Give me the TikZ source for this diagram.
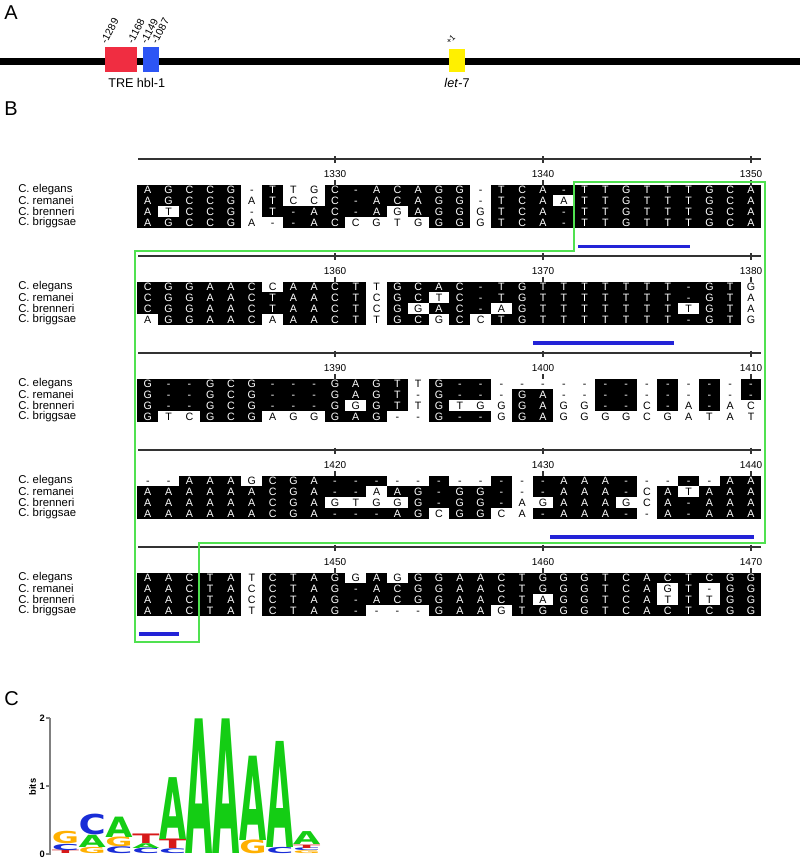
\documentclass[tikz,border=0pt]{standalone}
\usepackage{fontspec}
\setmainfont{Liberation Sans}
\newfontfamily\logofont{DejaVu Sans}
\usepackage{graphicx}
\usetikzlibrary{positioning}
\definecolor{TreRed}{RGB}{240,45,65}
\definecolor{HblBlue}{RGB}{45,85,245}
\definecolor{LetYellow}{RGB}{255,240,0}
\definecolor{BoxGreen}{RGB}{80,225,80}
\definecolor{MotifBlue}{RGB}{35,35,215}
\definecolor{LogoA}{RGB}{20,205,20}
\definecolor{LogoC}{RGB}{25,45,215}
\definecolor{LogoG}{RGB}{255,176,0}
\definecolor{LogoT}{RGB}{215,25,25}
\tikzset{
  panel/.style={font=\fontsize{15}{15}\selectfont,inner sep=0,anchor=base west},
  gene/.style={inner sep=0,minimum height=18.75pt},
  genelabel/.style={inner sep=0,font=\fontsize{9.5}{9.5}\selectfont,
    text height=6.8pt,text depth=2pt},
  posnum/.style={inner sep=0,font=\fontsize{7.8}{7.8}\selectfont,rotate=62,
    anchor=south west},
  species/.style={inner sep=0,anchor=west,font=\fontsize{8.5}{8.5}\selectfont},
  res/.style={inner sep=0,minimum width=15.7pt,minimum height=8.2pt,
    text height=5.6pt,text depth=0pt,font=\fontsize{8}{8}\selectfont},
  onres/.style={res,fill=black,text=white},
  offres/.style={res,text=black},
  ruler/.style={line width=0.8pt,black!80},
  ticklabel/.style={inner sep=0,font=\fontsize{7.5}{7.5}\selectfont},
  greenbox/.style={draw=BoxGreen,line width=1.9pt},
  motif/.style={draw=MotifBlue,line width=2.6pt},
  logo/.style={inner sep=0,anchor=south west,font=\logofont\bfseries},
  axislabel/.style={inner sep=0,font=\bfseries\fontsize{7}{7}\selectfont}
}
% one alignment row: block, row, residues
% upper case = shaded, lower case = unshaded, - = shaded gap, * = unshaded gap
\makeatletter
\newcount\alncol
\newcommand\alnrow[3]{%
  \global\alncol=0
  \@tfor\alnres:=#3\do{%
    \global\advance\alncol by 1
    \alncell{#1}{#2}}}
\makeatother
\newcommand\alncell[2]{%
  \pgfmathsetmacro\alnx{137.4+20.8*(\the\alncol-0.5)}%
  \pgfmathsetmacro\alny{190+97*(#1-1)+10.8*(#2-1)}%
  \if-\alnres
    \node[onres] (b#1r#2c\the\alncol) at (\alnx,\alny) {-};%
  \else\if*\alnres
    \node[offres] (b#1r#2c\the\alncol) at (\alnx,\alny) {-};%
  \else\ifnum\expandafter`\alnres>96
    \node[offres] (b#1r#2c\the\alncol) at (\alnx,\alny) {\uppercase\expandafter{\alnres}};%
  \else
    \node[onres] (b#1r#2c\the\alncol) at (\alnx,\alny) {\alnres};%
  \fi\fi\fi}
% one letter of the logo: column, base (bits), height (bits), colour, letter
\newdimen\logoht
\newcommand\logoletter[5]{%
  \logoht=#3\dimexpr51pt\relax
  \node[logo] at ({51.6+26.8*(#1-1)},{854-68*#2}) {\resizebox{20.4pt}{\logoht}{\color{#4}#5}};}

\begin{document}
\begin{tikzpicture}[x=0.75pt,y=-0.75pt]
\path[use as bounding box,fill=white] (0,0) rectangle (800,862);

% A: promoter map
\node[panel] (pa) at (4,20) {A};
\coordinate (chl) at (0,61.5);
\coordinate (chr) at (800,61.5);
\draw[line width=5.2pt] (chl) -- (chr);
\node[gene,fill=TreRed,minimum width=24pt] (tre) at (121,59.5) {};
\node[gene,fill=HblBlue,minimum width=12pt] (hbl) at (151,59.5) {};
\node[gene,fill=LetYellow,minimum width=12pt,minimum height=17.25pt] (let7) at (457,60.5) {};
\node[genelabel,below=4.5pt of tre] (trelab) {TRE};
\node[genelabel,below=4.5pt of hbl] (hbllab) {hbl-1};
\node[genelabel,below=4.5pt of let7] (letlab) {\textit{let}-7};
\node[posnum] at ([xshift=1.5pt,yshift=1.5pt]tre.north west) {-1289};
\node[posnum] at ([xshift=-3pt,yshift=1.5pt]tre.north east) {-1168};
\node[posnum] at ([xshift=3pt,yshift=1.5pt]hbl.north west) {-1149};
\node[posnum] at ([xshift=-1.5pt,yshift=1.5pt]hbl.north east) {-1087};
\node[posnum,rotate=-17,font=\fontsize{6}{6}\selectfont] at ([xshift=0.5pt,yshift=3pt]let7.north west) {+1};

% B: alignment
\node[panel] (pb) at (4,116) {B};
\foreach \b in {1,...,5} {
  \pgfmathsetmacro\rl{159+97*(\b-1)}
  \draw[ruler] (138,\rl) -- (761,\rl);
  \foreach \k in {1,2,3} {
    \pgfmathsetmacro\tx{137.4+20.8*(10*\k-0.5)}
    \pgfmathtruncatemacro\tk{1320+30*(\b-1)+10*\k}
    \draw[ruler] (\tx,\rl-2.5) -- (\tx,\rl+4);
    \draw[ruler] (\tx,\rl+21) -- (\tx,\rl+25.6);
    \node[ticklabel] at (\tx,\rl+15) {\tk};
  }
  \foreach \r/\sp in {1/elegans,2/remanei,3/brenneri,4/briggsae}
    \node[species] at (18,{\rl+31+10.8*(\r-1)}) {C. \sp};
}

\alnrow{1}{1}{AGCCG*TtgC-ACAGG*TCA-TTGTTTGCA}
\alnrow{1}{2}{AGCCGaTccC-ACAGG*TCAaTTGTTTGCA}
\alnrow{1}{3}{AtCCG*T-AC-AgAGGgTCA-TTGTTTGCA}
\alnrow{1}{4}{AGCCGa*-ACcgtgGGgTCA-TTGTTTGCA}

\alnrow{2}{1}{CGGAACcAACTtGCAC-TGTTTTTTT-GTg}
\alnrow{2}{2}{CGGAACTAACTcGCtC-TGTTTTTTT-GTa}
\alnrow{2}{3}{CGGAACTAACTcGgAC-aGTTTTTTTtGTa}
\alnrow{2}{4}{aGGAACaAACTtGCgCcTGTTTTTTT-GTg}

\alnrow{3}{1}{G--GCG---GAGTtG--*****--*-*-*-}
\alnrow{3}{2}{G--GCG---GAGT*G--*GA**--*-*-*-}
\alnrow{3}{3}{G--GCG---GgGTtGtggGAgg--c-a-ac}
\alnrow{3}{4}{GtcGCGaggGAG**G--gGAggggcgatat}

\alnrow{4}{1}{**AAAgCGA---**-**-*-AAA-**-*AA}
\alnrow{4}{2}{AAAAAACGA--aAG-GG-*-AAA-cAtAAA}
\alnrow{4}{3}{AAAAAACGAgtggG-GG-agAAAgcA-AAA}
\alnrow{4}{4}{AAAAAACGA---AGcGGca-AAA-*A-AAA}

\alnrow{5}{1}{AACTAtCTAGgAgGGAACTGGGTCACTCGG}
\alnrow{5}{2}{AACTAcCTAG-ACGGAACTGGGTCAgT*GG}
\alnrow{5}{3}{AACTAcCTAG-ACGGAACTaGGTCAtTtGG}
\alnrow{5}{4}{AACTAtCTAG-***GAAgTGGGTCACTCGG}

% conserved region and motifs
\draw[greenbox] (574,182) -- (765,182) -- (765,543) -- (199,543) -- (199,642)
  -- (135,642) -- (135,251) -- (574,251) -- cycle;
\draw[motif] (578,246.5) -- (690,246.5);
\draw[motif] (533,343) -- (674,343);
\draw[motif] (550,537) -- (754,537);
\draw[motif] (139,634) -- (179,634);

% C: sequence logo
\node[panel] (pc) at (4,705) {C};
\draw[black!50,line width=0.8pt] (50,718) -- (50,855);
\foreach \v/\y in {2/718,1/786,0/854} {
  \draw[black!50,line width=0.8pt] (46,\y) -- (50,\y);
  \node[axislabel,anchor=east] at (45,\y) {\v};
}
\node[axislabel,rotate=90] at (32.5,787) {bits};
\foreach \c/\bs/\h/\cl/\l in {
  1/0/0.05/LogoT/T, 1/0.05/0.09/LogoC/C, 1/0.14/0.18/LogoG/G,
  2/0/0.09/LogoG/G, 2/0.09/0.18/LogoA/A, 2/0.27/0.30/LogoC/C,
  3/0/0.10/LogoC/C, 3/0.10/0.14/LogoG/G, 3/0.24/0.30/LogoA/A,
  4/0/0.08/LogoC/C, 4/0.08/0.07/LogoA/A, 4/0.15/0.14/LogoT/T,
  5/0/0.07/LogoC/C, 5/0.07/0.14/LogoT/T, 5/0.21/0.91/LogoA/A,
  6/0/1.98/LogoA/A,
  7/0/1.98/LogoA/A,
  8/0/0.20/LogoG/G, 8/0.20/1.24/LogoA/A,
  9/0/0.09/LogoC/C, 9/0.09/1.56/LogoA/A,
  10/0/0.04/LogoG/G, 10/0.04/0.04/LogoC/C, 10/0.08/0.05/LogoT/T, 10/0.13/0.19/LogoA/A}
  \logoletter{\c}{\bs}{\h}{\cl}{\l};

\end{tikzpicture}
\end{document}
